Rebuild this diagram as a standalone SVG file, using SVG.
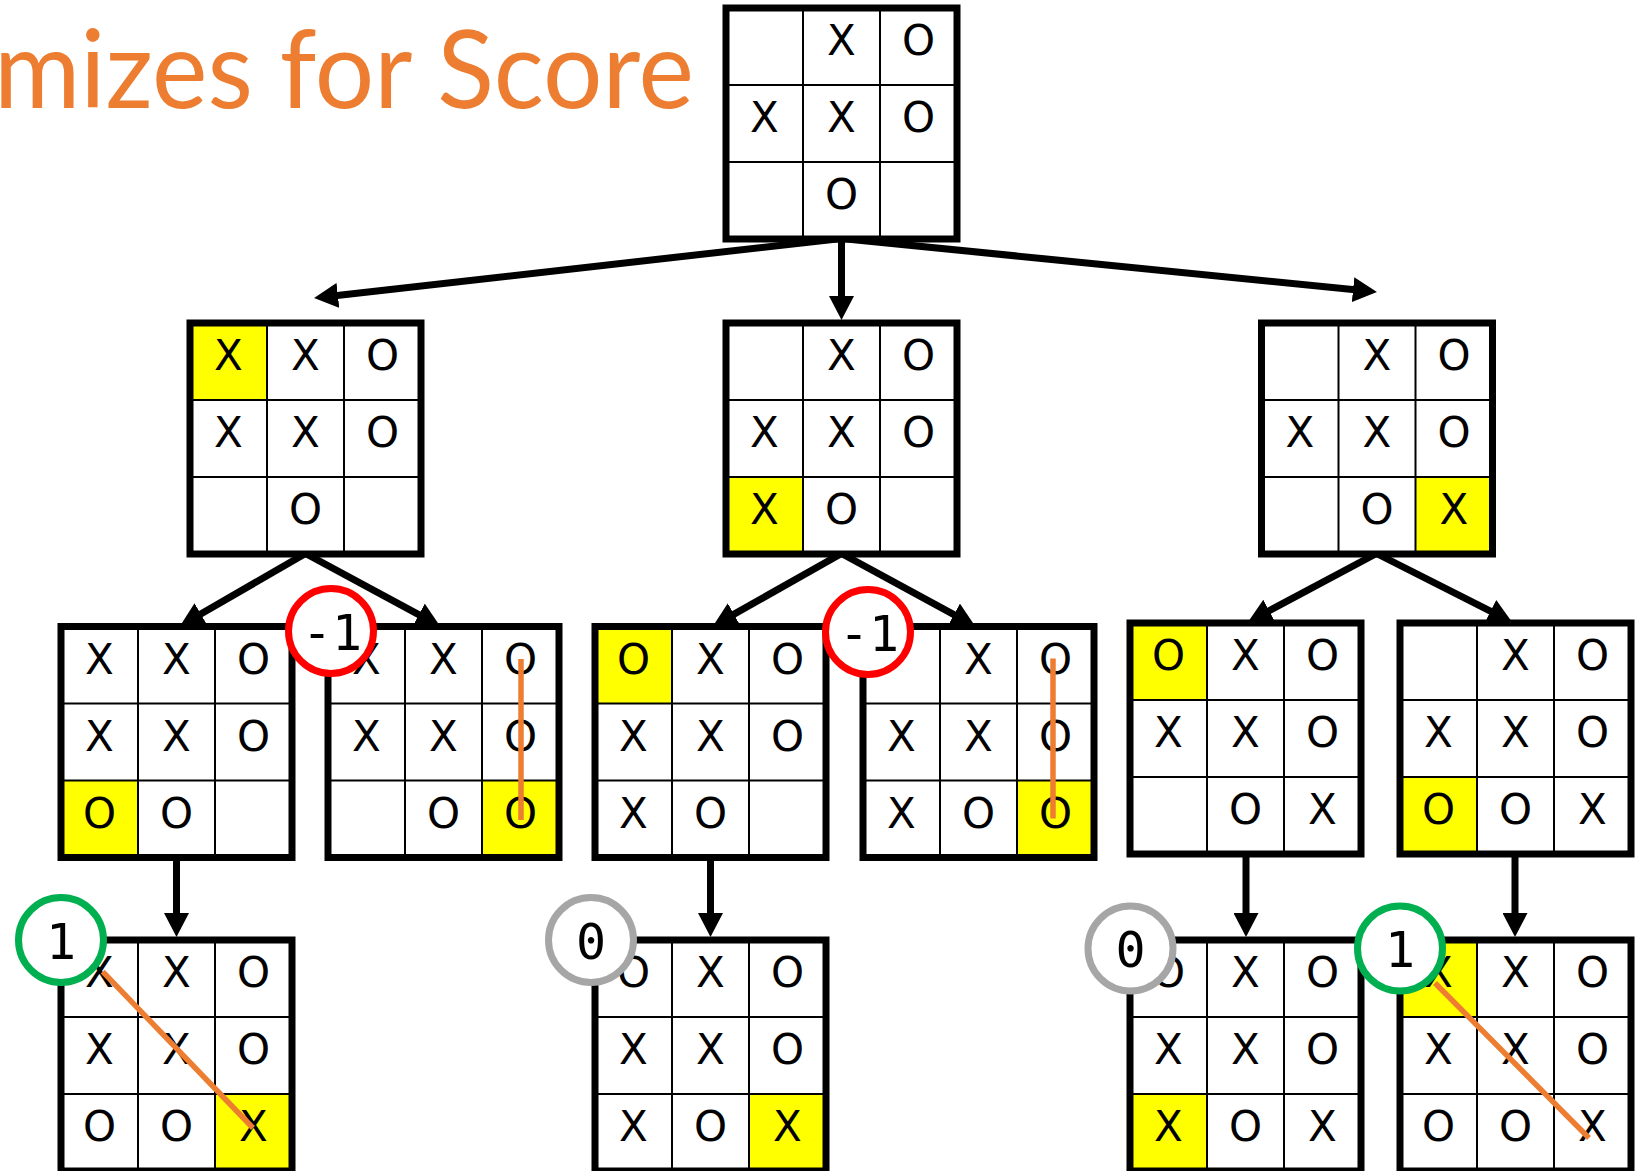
<svg xmlns="http://www.w3.org/2000/svg" width="1640" height="1171" viewBox="0 0 1640 1171">
<style>
.bg{fill:#fff}
.hl{fill:#ffff00}
.grid{stroke:#000;stroke-width:2;fill:none}
.frame{fill:none;stroke:#000;stroke-width:7}
.c{font-family:"DejaVu Sans",sans-serif;font-size:42px;text-anchor:middle;fill:#000}
.edge{stroke:#000;stroke-width:7;fill:none;marker-end:url(#ah)}
.win{stroke:#ED7D31;stroke-width:5.5;fill:none}
.sc{fill:#fff;stroke-width:7}
.st{font-family:"DejaVu Sans Mono",monospace;font-size:50px;text-anchor:middle;fill:#000}
.title{font-family:Lato,"Open Sans",sans-serif;font-size:108px;fill:#ED7D31}
</style>
<defs>
<marker id="ah" markerUnits="userSpaceOnUse" markerWidth="24" markerHeight="25" viewBox="0 0 24 25" refX="12" refY="12.5" orient="auto">
<path d="M0,0 L24,12.5 L0,25 z" fill="#000"/>
</marker>
</defs>

<text class="title" x="-6" y="108" textLength="700" lengthAdjust="spacingAndGlyphs">mizes for Score</text>

<g id="connectors">
<path class="edge" d="M841.5,238.5 L326,296.7"/>
<path class="edge" d="M841.5,238.5 L841.5,308"/>
<path class="edge" d="M841.5,238.5 L1365,290.8"/>
<path class="edge" d="M305.5,553.5 L190.4,620"/>
<path class="edge" d="M305.5,553.5 L429.4,620.3"/>
<path class="edge" d="M841.5,553.5 L723.5,620.1"/>
<path class="edge" d="M841.5,553.5 L964.5,620.3"/>
<path class="edge" d="M1376.5,553.5 L1258.6,616.4"/>
<path class="edge" d="M1376.5,553.5 L1501.3,616.6"/>
<path class="edge" d="M176.5,857 L176.5,925"/>
<path class="edge" d="M710.5,857 L710.5,925"/>
<path class="edge" d="M1246,854 L1246,925"/>
<path class="edge" d="M1515,854 L1515,925"/>
</g>

<!-- root -->
<g id="root" transform="translate(726,8)">
<rect class="bg" width="231" height="231"/>
<path class="grid" d="M77,0V231M154,0V231M0,77H231M0,154H231"/>
<rect class="frame" width="231" height="231"/>
<text class="c" x="115.5" y="47">X</text><text class="c" x="192.5" y="47">O</text>
<text class="c" x="38.5" y="124">X</text><text class="c" x="115.5" y="124">X</text><text class="c" x="192.5" y="124">O</text>
<text class="c" x="115.5" y="201">O</text>
</g>

<!-- level 1 -->
<g id="l1a" transform="translate(190,323)">
<rect class="bg" width="231" height="231"/>
<rect class="hl" x="0" y="0" width="77" height="77"/>
<path class="grid" d="M77,0V231M154,0V231M0,77H231M0,154H231"/>
<rect class="frame" width="231" height="231"/>
<text class="c" x="38.5" y="47">X</text><text class="c" x="115.5" y="47">X</text><text class="c" x="192.5" y="47">O</text>
<text class="c" x="38.5" y="124">X</text><text class="c" x="115.5" y="124">X</text><text class="c" x="192.5" y="124">O</text>
<text class="c" x="115.5" y="201">O</text>
</g>

<g id="l1b" transform="translate(726,323)">
<rect class="bg" width="231" height="231"/>
<rect class="hl" x="0" y="154" width="77" height="77"/>
<path class="grid" d="M77,0V231M154,0V231M0,77H231M0,154H231"/>
<rect class="frame" width="231" height="231"/>
<text class="c" x="115.5" y="47">X</text><text class="c" x="192.5" y="47">O</text>
<text class="c" x="38.5" y="124">X</text><text class="c" x="115.5" y="124">X</text><text class="c" x="192.5" y="124">O</text>
<text class="c" x="38.5" y="201">X</text><text class="c" x="115.5" y="201">O</text>
</g>

<g id="l1c" transform="translate(1261.5,323)">
<rect class="bg" width="231" height="231"/>
<rect class="hl" x="154" y="154" width="77" height="77"/>
<path class="grid" d="M77,0V231M154,0V231M0,77H231M0,154H231"/>
<rect class="frame" width="231" height="231"/>
<text class="c" x="115.5" y="47">X</text><text class="c" x="192.5" y="47">O</text>
<text class="c" x="38.5" y="124">X</text><text class="c" x="115.5" y="124">X</text><text class="c" x="192.5" y="124">O</text>
<text class="c" x="115.5" y="201">O</text><text class="c" x="192.5" y="201">X</text>
</g>

<!-- level 2 -->
<g id="l2a" transform="translate(61,626.5)">
<rect class="bg" width="231" height="231"/>
<rect class="hl" x="0" y="154" width="77" height="77"/>
<path class="grid" d="M77,0V231M154,0V231M0,77H231M0,154H231"/>
<rect class="frame" width="231" height="231"/>
<text class="c" x="38.5" y="47">X</text><text class="c" x="115.5" y="47">X</text><text class="c" x="192.5" y="47">O</text>
<text class="c" x="38.5" y="124">X</text><text class="c" x="115.5" y="124">X</text><text class="c" x="192.5" y="124">O</text>
<text class="c" x="38.5" y="201">O</text><text class="c" x="115.5" y="201">O</text>
</g>

<g id="l2b" transform="translate(328,626.5)">
<rect class="bg" width="231" height="231"/>
<rect class="hl" x="154" y="154" width="77" height="77"/>
<path class="grid" d="M77,0V231M154,0V231M0,77H231M0,154H231"/>
<rect class="frame" width="231" height="231"/>
<text class="c" x="38.5" y="47">X</text><text class="c" x="115.5" y="47">X</text><text class="c" x="192.5" y="47">O</text>
<text class="c" x="38.5" y="124">X</text><text class="c" x="115.5" y="124">X</text><text class="c" x="192.5" y="124">O</text>
<text class="c" x="115.5" y="201">O</text><text class="c" x="192.5" y="201">O</text>
<path class="win" d="M193,32.5V193.5"/>
</g>

<g id="l2c" transform="translate(595,626.5)">
<rect class="bg" width="231" height="231"/>
<rect class="hl" x="0" y="0" width="77" height="77"/>
<path class="grid" d="M77,0V231M154,0V231M0,77H231M0,154H231"/>
<rect class="frame" width="231" height="231"/>
<text class="c" x="38.5" y="47">O</text><text class="c" x="115.5" y="47">X</text><text class="c" x="192.5" y="47">O</text>
<text class="c" x="38.5" y="124">X</text><text class="c" x="115.5" y="124">X</text><text class="c" x="192.5" y="124">O</text>
<text class="c" x="38.5" y="201">X</text><text class="c" x="115.5" y="201">O</text>
</g>

<g id="l2d" transform="translate(863,626.5)">
<rect class="bg" width="231" height="231"/>
<rect class="hl" x="154" y="154" width="77" height="77"/>
<path class="grid" d="M77,0V231M154,0V231M0,77H231M0,154H231"/>
<rect class="frame" width="231" height="231"/>
<text class="c" x="115.5" y="47">X</text><text class="c" x="192.5" y="47">O</text>
<text class="c" x="38.5" y="124">X</text><text class="c" x="115.5" y="124">X</text><text class="c" x="192.5" y="124">O</text>
<text class="c" x="38.5" y="201">X</text><text class="c" x="115.5" y="201">O</text><text class="c" x="192.5" y="201">O</text>
<path class="win" d="M190,32V192"/>
</g>

<g id="l2e" transform="translate(1130,623)">
<rect class="bg" width="231" height="231"/>
<rect class="hl" x="0" y="0" width="77" height="77"/>
<path class="grid" d="M77,0V231M154,0V231M0,77H231M0,154H231"/>
<rect class="frame" width="231" height="231"/>
<text class="c" x="38.5" y="47">O</text><text class="c" x="115.5" y="47">X</text><text class="c" x="192.5" y="47">O</text>
<text class="c" x="38.5" y="124">X</text><text class="c" x="115.5" y="124">X</text><text class="c" x="192.5" y="124">O</text>
<text class="c" x="115.5" y="201">O</text><text class="c" x="192.5" y="201">X</text>
</g>

<g id="l2f" transform="translate(1400,623)">
<rect class="bg" width="231" height="231"/>
<rect class="hl" x="0" y="154" width="77" height="77"/>
<path class="grid" d="M77,0V231M154,0V231M0,77H231M0,154H231"/>
<rect class="frame" width="231" height="231"/>
<text class="c" x="115.5" y="47">X</text><text class="c" x="192.5" y="47">O</text>
<text class="c" x="38.5" y="124">X</text><text class="c" x="115.5" y="124">X</text><text class="c" x="192.5" y="124">O</text>
<text class="c" x="38.5" y="201">O</text><text class="c" x="115.5" y="201">O</text><text class="c" x="192.5" y="201">X</text>
</g>

<!-- level 3 -->
<g id="l3a" transform="translate(61,940)">
<rect class="bg" width="231" height="231"/>
<rect class="hl" x="154" y="154" width="77" height="77"/>
<path class="grid" d="M77,0V231M154,0V231M0,77H231M0,154H231"/>
<rect class="frame" width="231" height="231"/>
<text class="c" x="38.5" y="47">X</text><text class="c" x="115.5" y="47">X</text><text class="c" x="192.5" y="47">O</text>
<text class="c" x="38.5" y="124">X</text><text class="c" x="115.5" y="124">X</text><text class="c" x="192.5" y="124">O</text>
<text class="c" x="38.5" y="201">O</text><text class="c" x="115.5" y="201">O</text><text class="c" x="192.5" y="201">X</text>
<path class="win" d="M41.7,31.7L192,188"/>
</g>

<g id="l3c" transform="translate(595,940)">
<rect class="bg" width="231" height="231"/>
<rect class="hl" x="154" y="154" width="77" height="77"/>
<path class="grid" d="M77,0V231M154,0V231M0,77H231M0,154H231"/>
<rect class="frame" width="231" height="231"/>
<text class="c" x="38.5" y="47">O</text><text class="c" x="115.5" y="47">X</text><text class="c" x="192.5" y="47">O</text>
<text class="c" x="38.5" y="124">X</text><text class="c" x="115.5" y="124">X</text><text class="c" x="192.5" y="124">O</text>
<text class="c" x="38.5" y="201">X</text><text class="c" x="115.5" y="201">O</text><text class="c" x="192.5" y="201">X</text>
</g>

<g id="l3e" transform="translate(1130,940)">
<rect class="bg" width="231" height="231"/>
<rect class="hl" x="0" y="154" width="77" height="77"/>
<path class="grid" d="M77,0V231M154,0V231M0,77H231M0,154H231"/>
<rect class="frame" width="231" height="231"/>
<text class="c" x="38.5" y="47">O</text><text class="c" x="115.5" y="47">X</text><text class="c" x="192.5" y="47">O</text>
<text class="c" x="38.5" y="124">X</text><text class="c" x="115.5" y="124">X</text><text class="c" x="192.5" y="124">O</text>
<text class="c" x="38.5" y="201">X</text><text class="c" x="115.5" y="201">O</text><text class="c" x="192.5" y="201">X</text>
</g>

<g id="l3f" transform="translate(1400,940)">
<rect class="bg" width="231" height="231"/>
<rect class="hl" x="0" y="0" width="77" height="77"/>
<path class="grid" d="M77,0V231M154,0V231M0,77H231M0,154H231"/>
<rect class="frame" width="231" height="231"/>
<text class="c" x="38.5" y="47">X</text><text class="c" x="115.5" y="47">X</text><text class="c" x="192.5" y="47">O</text>
<text class="c" x="38.5" y="124">X</text><text class="c" x="115.5" y="124">X</text><text class="c" x="192.5" y="124">O</text>
<text class="c" x="38.5" y="201">O</text><text class="c" x="115.5" y="201">O</text><text class="c" x="192.5" y="201">X</text>
<path class="win" d="M35,43L189,198"/>
</g>

<!-- scores -->
<g id="score-l2b">
<circle class="sc" cx="331" cy="631" r="42.5" stroke="#FF0000"/>
<text class="st" x="332" y="649.5">-1</text>
</g>
<g id="score-l2d">
<circle class="sc" cx="868" cy="632" r="42.5" stroke="#FF0000"/>
<text class="st" x="869" y="650.5">-1</text>
</g>
<g id="score-l3a">
<circle class="sc" cx="61" cy="940" r="42.5" stroke="#00B050"/>
<text class="st" x="61" y="958.5">1</text>
</g>
<g id="score-l3c">
<circle class="sc" cx="591" cy="940" r="42.5" stroke="#A6A6A6"/>
<text class="st" x="591" y="958.5">0</text>
</g>
<g id="score-l3e">
<circle class="sc" cx="1130.5" cy="948.5" r="42.5" stroke="#A6A6A6"/>
<text class="st" x="1130.5" y="967">0</text>
</g>
<g id="score-l3f">
<circle class="sc" cx="1400" cy="948.5" r="42.5" stroke="#00B050"/>
<text class="st" x="1400" y="967">1</text>
</g>
</svg>
